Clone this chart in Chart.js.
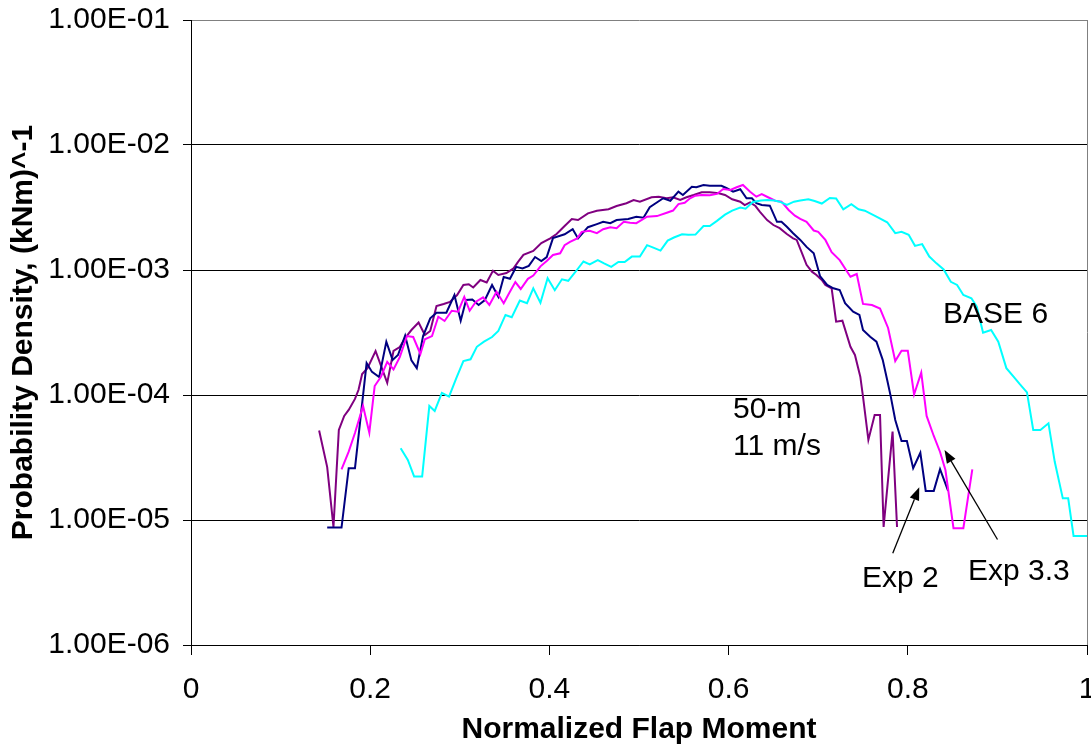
<!DOCTYPE html>
<html><head><meta charset="utf-8">
<script src="https://cdn.jsdelivr.net/npm/chart.js@4.4.1/dist/chart.umd.min.js"></script>
<style>html,body{margin:0;padding:0;background:#fff;}canvas{display:block;}</style>
</head><body>
<canvas id="c" width="1091" height="747" style="width:1091px;height:747px"></canvas>
<script>
// ---------- axis ticks ----------
const xTickValues = [0, 0.2, 0.4, 0.6, 0.8, 1];
const xTickLabels = ['0', '0.2', '0.4', '0.6', '0.8', '1'];
const yTickValues = [1e-6, 1e-5, 1e-4, 1e-3, 1e-2, 1e-1];
const yTickLabels = ['1.00E-06', '1.00E-05', '1.00E-04', '1.00E-03', '1.00E-02', '1.00E-01'];
const xTitle = 'Normalized Flap Moment';
const yTitle = 'Probability Density, (kNm)^-1';

// ---------- series (purple) ----------
const purpleX = [
 0.143,0.152,0.159,0.165,0.171,0.176,0.183,0.187,0.191,0.197,
 0.206,0.213,0.219,0.226,0.233,0.239,0.246,0.254,0.261,0.267,
 0.274,0.282,0.289,0.297,0.304,0.310,0.315,0.323,0.330,0.337,
 0.343,0.352,0.360,0.365,0.371,0.382,0.391,0.401,0.408,0.417,
 0.425,0.432,0.443,0.453,0.466,0.475,0.486,0.494,0.501,0.514,
 0.522,0.531,0.538,0.546,0.553,0.561,0.570,0.579,0.589,0.596,
 0.604,0.613,0.618,0.624,0.630,0.635,0.643,0.650,0.657,0.665,
 0.672,0.676,0.682,0.687,0.693,0.698,0.704,0.708,0.715,0.720,
 0.727,0.736,0.741,0.747,0.750,0.756,0.763,0.769,0.773,0.783,0.788];
const purpleY = [
 5.2e-5,2.65e-5,8.8e-6,5.25e-5,6.8e-5,7.6e-5,9.3e-5,1.10e-4,1.47e-4,1.64e-4,
 2.25e-4,1.64e-4,1.25e-4,2.25e-4,2.42e-4,2.86e-4,3.31e-4,3.8e-4,3.02e-4,3.25e-4,
 5.15e-4,5.35e-4,5.55e-4,6.31e-4,7.59e-4,7.7e-4,7.24e-4,8.32e-4,7.94e-4,9.87e-4,
 9.12e-4,9.46e-4,1.03e-3,1.16e-3,1.32e-3,1.42e-3,1.64e-3,1.79e-3,1.94e-3,2.25e-3,
 2.56e-3,2.51e-3,2.84e-3,2.98e-3,3.06e-3,3.25e-3,3.42e-3,3.63e-3,3.52e-3,3.82e-3,
 3.86e-3,3.75e-3,3.82e-3,3.63e-3,3.82e-3,3.98e-3,4.19e-3,4.19e-3,4.11e-3,3.98e-3,
 3.68e-3,3.52e-3,3.31e-3,3.48e-3,3.25e-3,2.92e-3,2.51e-3,2.29e-3,2.16e-3,1.94e-3,
 1.79e-3,1.74e-3,1.36e-3,1.10e-3,9.7e-4,9.12e-4,8.32e-4,7.59e-4,7.14e-4,3.86e-4,
 3.93e-4,2.43e-4,2.09e-4,1.40e-4,9.7e-5,4.37e-5,6.92e-5,6.92e-5,8.8e-6,5.1e-5,8.8e-6];

// ---------- series Exp 2 (navy) ----------
const exp2X = [
 0.152,0.168,0.176,0.183,0.196,0.202,0.210,0.218,0.225,0.231,
 0.239,0.246,0.252,0.259,0.267,0.274,0.285,0.294,0.301,0.307,
 0.314,0.321,0.328,0.336,0.343,0.349,0.356,0.363,0.370,0.377,
 0.384,0.391,0.397,0.404,0.417,0.426,0.432,0.443,0.453,0.460,
 0.468,0.475,0.488,0.497,0.505,0.512,0.527,0.535,0.544,0.549,
 0.559,0.564,0.572,0.579,0.592,0.598,0.605,0.613,0.620,0.626,
 0.631,0.637,0.646,0.654,0.659,0.665,0.672,0.680,0.687,0.695,
 0.702,0.710,0.717,0.724,0.730,0.739,0.746,0.750,0.758,0.765,
 0.772,0.777,0.781,0.786,0.793,0.799,0.806,0.814,0.820,0.829,0.836,0.845];
const exp2Y = [
 8.7e-6,8.7e-6,2.6e-5,2.6e-5,1.80e-4,1.53e-4,1.39e-4,2.67e-4,1.91e-4,2.09e-4,
 2.99e-4,1.89e-4,1.64e-4,2.96e-4,4.11e-4,4.55e-4,4.55e-4,6.31e-4,3.93e-4,5.75e-4,
 5.8e-4,5.25e-4,5.75e-4,7.59e-4,6.1e-4,8.8e-4,8.5e-4,1.06e-3,1.03e-3,1.08e-3,
 1.27e-3,1.18e-3,1.27e-3,1.80e-3,1.93e-3,2.12e-3,1.79e-3,2.20e-3,2.33e-3,2.43e-3,
 2.37e-3,2.51e-3,2.56e-3,2.67e-3,2.62e-3,3.18e-3,3.75e-3,3.58e-3,4.23e-3,3.98e-3,
 4.64e-3,4.59e-3,4.79e-3,4.72e-3,4.72e-3,4.51e-3,4.23e-3,4.43e-3,3.75e-3,3.75e-3,
 3.42e-3,3.31e-3,3.27e-3,2.43e-3,2.43e-3,2.22e-3,1.97e-3,1.74e-3,1.53e-3,1.36e-3,
 8.95e-4,7.59e-4,7.14e-4,6.92e-4,5.42e-4,4.64e-4,4.37e-4,3.31e-4,2.92e-4,2.67e-4,
 1.91e-4,1.32e-4,9.7e-5,6.31e-5,4.29e-5,4.29e-5,2.6e-5,3.45e-5,1.71e-5,1.71e-5,2.55e-5,1.71e-5];

// ---------- series Exp 3.3 (magenta) ----------
const exp33X = [
 0.168,0.176,0.183,0.192,0.199,0.205,0.212,0.219,0.226,0.233,
 0.241,0.248,0.256,0.261,0.269,0.276,0.283,0.291,0.298,0.305,
 0.311,0.318,0.326,0.333,0.341,0.349,0.355,0.362,0.368,0.376,
 0.382,0.390,0.397,0.404,0.412,0.417,0.423,0.431,0.436,0.445,
 0.453,0.460,0.468,0.475,0.483,0.490,0.497,0.509,0.520,0.531,
 0.538,0.544,0.551,0.557,0.563,0.570,0.579,0.587,0.594,0.602,
 0.609,0.616,0.624,0.631,0.637,0.644,0.652,0.659,0.667,0.674,
 0.680,0.687,0.695,0.700,0.708,0.715,0.724,0.736,0.743,0.750,
 0.760,0.769,0.778,0.786,0.793,0.800,0.807,0.815,0.821,0.829,
 0.836,0.842,0.851,0.862,0.872];
const exp33Y = [
 2.54e-5,3.52e-5,4.97e-5,8.17e-5,5.0e-5,1.18e-4,1.40e-4,1.84e-4,1.60e-4,2.01e-4,
 2.96e-4,2.91e-4,2.13e-4,2.79e-4,2.96e-4,4.23e-4,3.91e-4,4.72e-4,4.64e-4,6.1e-4,
 4.72e-4,5.57e-4,6.05e-4,5.25e-4,6.7e-4,5.42e-4,6.52e-4,8.0e-4,7.05e-4,8.5e-4,
 9.03e-4,1.07e-3,1.18e-3,1.32e-3,1.36e-3,1.58e-3,1.68e-3,1.79e-3,2.02e-3,2.06e-3,
 1.97e-3,2.12e-3,2.20e-3,2.16e-3,2.43e-3,2.39e-3,2.37e-3,2.67e-3,2.70e-3,2.87e-3,
 2.99e-3,3.37e-3,3.45e-3,3.75e-3,3.93e-3,3.98e-3,3.96e-3,4.06e-3,4.45e-3,4.37e-3,
 4.59e-3,4.79e-3,4.23e-3,3.86e-3,4.04e-3,3.82e-3,3.58e-3,3.52e-3,3.02e-3,2.72e-3,
 2.56e-3,2.43e-3,2.07e-3,2.02e-3,1.74e-3,1.39e-3,1.20e-3,8.83e-4,9.29e-4,5.35e-4,
 5.25e-4,4.92e-4,3.44e-4,1.87e-4,2.26e-4,2.26e-4,1.01e-4,1.51e-4,6.8e-5,4.7e-5,
 3.5e-5,2.51e-5,8.6e-6,8.6e-6,2.54e-5];

// ---------- series BASE 6 (cyan) ----------
const base6X = [
 0.234,0.242,0.249,0.258,0.266,0.272,0.280,0.288,0.296,0.304,
 0.312,0.319,0.327,0.336,0.343,0.351,0.358,0.367,0.375,0.382,
 0.390,0.398,0.406,0.414,0.421,0.429,0.438,0.445,0.454,0.461,
 0.469,0.477,0.484,0.492,0.501,0.509,0.516,0.524,0.532,0.539,
 0.548,0.555,0.563,0.572,0.579,0.587,0.596,0.604,0.613,0.619,
 0.627,0.636,0.643,0.651,0.657,0.665,0.673,0.680,0.689,0.696,
 0.704,0.713,0.720,0.728,0.737,0.745,0.752,0.765,0.777,0.786,
 0.793,0.801,0.808,0.816,0.824,0.832,0.840,0.848,0.855,0.862,
 0.871,0.877,0.884,0.893,0.901,0.910,0.918,0.925,0.933,0.940,
 0.948,0.957,0.964,0.973,0.979,0.985,1.000];
const base6Y = [
 3.75e-5,3.02e-5,2.23e-5,2.23e-5,8.17e-5,7.45e-5,1.04e-4,9.7e-5,1.36e-4,1.87e-4,
 1.93e-4,2.43e-4,2.67e-4,2.91e-4,3.25e-4,4.37e-4,4.19e-4,5.7e-4,5.42e-4,7.14e-4,
 5.47e-4,8.59e-4,6.89e-4,8.43e-4,8.2e-4,9.64e-4,1.17e-3,1.11e-3,1.20e-3,1.13e-3,
 1.06e-3,1.16e-3,1.16e-3,1.28e-3,1.28e-3,1.58e-3,1.51e-3,1.43e-3,1.72e-3,1.82e-3,
 1.93e-3,1.91e-3,1.92e-3,2.25e-3,2.25e-3,2.47e-3,2.77e-3,2.99e-3,3.16e-3,3.09e-3,
 3.50e-3,3.60e-3,3.63e-3,3.60e-3,3.52e-3,3.31e-3,3.52e-3,3.60e-3,3.68e-3,3.56e-3,
 3.40e-3,3.77e-3,3.73e-3,3.06e-3,3.36e-3,3.06e-3,2.98e-3,2.67e-3,2.41e-3,1.97e-3,
 2.02e-3,1.91e-3,1.56e-3,1.61e-3,1.28e-3,1.13e-3,1.01e-3,8.05e-4,7.59e-4,6.31e-4,
 5.94e-4,5.08e-4,3.15e-4,3.31e-4,2.67e-4,1.64e-4,1.40e-4,1.22e-4,1.05e-4,5.25e-5,
 5.25e-5,5.94e-5,2.92e-5,1.49e-5,1.49e-5,7.45e-6,7.45e-6];

// ---------- annotations (data coordinates, text baseline) ----------
const noteTexts = ['BASE 6', '50-m', '11 m/s', 'Exp 2', 'Exp 3.3'];
const noteX = [0.8393, 0.605, 0.605, 0.7489, 0.8672];
const noteY = [3.77e-4, 6.55e-5, 3.31e-5, 2.91e-6, 3.31e-6];
const arrowFromX = [0.7832, 0.9001];
const arrowFromY = [5.42e-6, 6.98e-6];
const arrowToX = [0.8128, 0.841];
const arrowToY = [1.83e-5, 3.63e-5];

const FONT = "'Liberation Sans', Arial, Helvetica, sans-serif";

function pts(xs, ys) { return xs.map((x, i) => ({ x: x, y: ys[i] })); }

const notePlugin = {
  id: 'notes',
  afterDatasetsDraw(chart) {
    const ctx = chart.ctx, xs = chart.scales.x, ys = chart.scales.y;
    ctx.save();
    ctx.fillStyle = '#000';
    ctx.font = '30px ' + FONT;
    ctx.textAlign = 'left';
    ctx.textBaseline = 'alphabetic';
    noteTexts.forEach((t, i) => {
      ctx.fillText(t, xs.getPixelForValue(noteX[i]), ys.getPixelForValue(noteY[i]));
    });
    ctx.strokeStyle = '#000';
    ctx.lineWidth = 1.3;
    for (let i = 0; i < arrowFromX.length; i++) {
      const x0 = xs.getPixelForValue(arrowFromX[i]), y0 = ys.getPixelForValue(arrowFromY[i]);
      const x1 = xs.getPixelForValue(arrowToX[i]), y1 = ys.getPixelForValue(arrowToY[i]);
      const ang = Math.atan2(y1 - y0, x1 - x0);
      const hl = 13, hw = 5;
      const bx = x1 - hl * Math.cos(ang), by = y1 - hl * Math.sin(ang);
      ctx.beginPath(); ctx.moveTo(x0, y0); ctx.lineTo(bx, by); ctx.stroke();
      ctx.beginPath();
      ctx.moveTo(x1, y1);
      ctx.lineTo(bx + hw * Math.sin(ang), by - hw * Math.cos(ang));
      ctx.lineTo(bx - hw * Math.sin(ang), by + hw * Math.cos(ang));
      ctx.closePath(); ctx.fill();
    }
    ctx.restore();
  }
};

function ds(label, xs, ys, color) {
  return { label: label, data: pts(xs, ys), borderColor: color, backgroundColor: color,
           borderWidth: 2, pointRadius: 0, tension: 0, fill: false };
}

new Chart(document.getElementById('c'), {
  type: 'line',
  data: {
    datasets: [
      ds('BASE 6', base6X, base6Y, '#00FFFF'),
      ds('Exp 3.3', exp33X, exp33Y, '#FF00FF'),
      ds('Exp 2', exp2X, exp2Y, '#000080'),
      ds('Purple series', purpleX, purpleY, '#800080')
    ]
  },
  options: {
    responsive: false,
    animation: false,
    devicePixelRatio: 1,
    layout: { padding: { top: 20, right: 4, bottom: 0, left: 0 } },
    plugins: { legend: { display: false }, tooltip: { enabled: false } },
    scales: {
      x: {
        type: 'linear', min: 0, max: 1,
        afterBuildTicks(scale) { scale.ticks = xTickValues.map(v => ({ value: v })); },
        afterFit(scale) { scale.height = 102; scale.paddingLeft = 0; scale.paddingRight = 0; },
        ticks: {
          color: '#000', font: { family: FONT, size: 30 }, padding: 17, maxRotation: 0,
          autoSkip: false,
          callback: (v, i) => xTickLabels[i]
        },
        grid: {
          color: c => (c.tick && c.tick.value === 1) ? '#808080' : 'rgba(0,0,0,0)',
          tickColor: '#000', tickLength: 10, lineWidth: 1, drawTicks: true
        },
        border: { display: true, color: '#000', width: 1 },
        title: {
          display: true, text: xTitle, color: '#000',
          font: { family: FONT, size: 30, weight: 'bold', lineHeight: 1 },
          padding: { top: 0, bottom: 2 }
        }
      },
      y: {
        type: 'logarithmic', min: 1e-6, max: 1e-1,
        afterBuildTicks(scale) { scale.ticks = yTickValues.map(v => ({ value: v })); },
        afterFit(scale) { scale.width = 191; scale.paddingTop = 0; scale.paddingBottom = 0; },
        ticks: {
          color: '#000', font: { family: FONT, size: 30 }, padding: 13, autoSkip: false,
          callback: (v, i) => yTickLabels[i]
        },
        grid: {
          color: c => (c.tick && c.tick.value === 1e-1) ? '#808080' : '#000',
          tickColor: '#000', tickLength: 8, lineWidth: 1
        },
        border: { display: true, color: '#000', width: 1 },
        title: {
          display: true, text: yTitle, color: '#000',
          font: { family: FONT, size: 30, weight: 'bold', lineHeight: 1 },
          padding: { top: 9, bottom: 0 }
        }
      }
    }
  },
  plugins: [notePlugin]
});
</script>
</body></html>
